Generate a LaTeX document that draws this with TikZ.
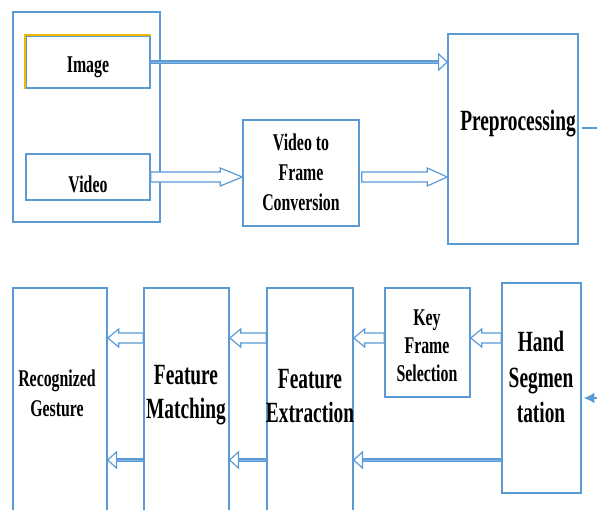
\documentclass[tikz,border=0pt]{standalone}
\usepackage{fontspec}
\setmainfont{Liberation Serif}[FakeStretch=0.66]
\usetikzlibrary{calc,fit,arrows.meta}
\definecolor{boxblue}{HTML}{5B9BD5}
\definecolor{edgegold}{HTML}{F2B800}
\definecolor{shaftmid}{HTML}{86B4E0}

\tikzset{
  box/.style={draw=boxblue, line width=1.1pt, inner sep=0pt},
  smalltxt/.style={font=\bfseries\fontsize{18}{22.5}\selectfont, align=center, inner sep=0pt},
  bigtxt/.style={font=\bfseries\fontsize{22}{25.5}\selectfont, align=center, inner sep=0pt},
  blockarrow/.style={draw=boxblue, line width=0.9pt, fill=white, line join=miter},
  shaft/.style={draw=boxblue, line width=1.2pt, double=shaftmid, double distance=0.7pt},
  openhead/.style={draw=boxblue, line width=0.9pt, fill=white, line join=miter},
  plainline/.style={draw=boxblue, line width=0.9pt},
  goldedge/.style={draw=edgegold, line width=1.2pt},
}

% hollow block arrow: start, end, head length
\newcommand\blockarr[3]{%
  \path[blockarrow] let \p1=#1, \p2=#2, \n1={2*(\x2>\x1)-1} in
    (\x1,{\y1+3.75pt}) -- ({\x2-\n1*#3},{\y1+3.75pt}) -- ({\x2-\n1*#3},{\y1+6.75pt})
    -- (\x2,\y1) -- ({\x2-\n1*#3},{\y1-6.75pt}) -- ({\x2-\n1*#3},{\y1-3.75pt})
    -- (\x1,{\y1-3.75pt}) -- cycle;}

% double-line arrow with an open triangular head
\newcommand\linearr[2]{%
  \draw[shaft] let \p1=#1, \p2=#2, \n1={2*(\x2>\x1)-1} in
    (\x1,\y1) -- ({\x2-\n1*5pt},\y1);
  \path[openhead] let \p1=#1, \p2=#2, \n1={2*(\x2>\x1)-1} in
    (\x2,\y1) -- ({\x2-\n1*6.5pt},{\y1+6pt}) -- ({\x2-\n1*6.5pt},{\y1-6pt}) -- cycle;}

\begin{document}
\begin{tikzpicture}[x=0.75pt,y=-0.75pt]
\useasboundingbox (0,0) rectangle (597,510);
\clip (0,0) rectangle (597,510);

% input group
\node[box, fit={(13,12) (160,222)}] (inp) {};
\node[box, fit={(26,36) (150,88)}] (img) {};
\path[goldedge] (img.south west) -- (img.north west) -- (img.north east);
\node[smalltxt] (imgt) at (88,67) {Image};
\node[box, fit={(26,154) (150,200)}] (vid) {};
\node[smalltxt] (vidt) at (88,184) {Video};

\node[box, fit={(243,120) (359,226)}] (vtf) {};
\node[smalltxt] (vtft) at (301,172) {Video to\\Frame\\Conversion};

\node[box, fit={(448,34) (578,244)}] (pre) {};
\node[bigtxt] (pret) at (518,124) {Preprocessing};

% lower row
\node[box, fit={(13,288) (107,540)}] (rg) {};
\node[smalltxt] (rgt) at (57,393) {Recognized\\Gesture};
\node[box, fit={(144,288) (229,540)}] (fm) {};
\node[bigtxt] (fmt) at (186,395) {Feature\\Matching};
\node[box, fit={(267,288) (353,540)}] (fe) {};
\node[bigtxt] (fet) at (310,396) {Feature\\Extraction};
\node[box, fit={(385,288) (470,397)}] (kf) {};
\node[smalltxt, font=\bfseries\fontsize{18}{21}\selectfont] (kft) at (427,346) {Key\\Frame\\Selection};
\node[box, fit={(502,283) (581,493)}] (hs) {};
\node[bigtxt, font=\bfseries\fontsize{22}{26.5}\selectfont] (hst) at (541,377) {Hand\\Segmen\\tation};

\coordinate (rowa) at (0,338);
\coordinate (rowb) at (0,460);
\coordinate (vtfout) at ($(vtf.east)+(0,4)$);
\coordinate (pout) at (600,128);
\coordinate (hin) at (600,398);

% upper connectors
\linearr{(img.east)}{(pre.west|-img.east)}
\blockarr{(vid.east)}{(vtf.west|-vid.east)}{16.5pt}
\blockarr{($(vtfout)+(2,0)$)}{(pre.west|-vtfout)}{15pt}
\draw[plainline] ($(pre.east|-pout)+(3,0)$) -- (pout);

% lower connectors
\blockarr{(fm.west|-rowa)}{(rg.east|-rowa)}{8.25pt}
\blockarr{(fe.west|-rowa)}{(fm.east|-rowa)}{8.25pt}
\blockarr{(kf.west|-rowa)}{(fe.east|-rowa)}{8.25pt}
\blockarr{(hs.west|-rowa)}{(kf.east|-rowa)}{8.25pt}
\linearr{(fm.west|-rowb)}{(rg.east|-rowb)}
\linearr{(fe.west|-rowb)}{(fm.east|-rowb)}
\linearr{(hs.west|-rowb)}{(fe.east|-rowb)}
\draw[plainline, -{Latex[length=8pt,width=8pt]}] (hin) -- ($(hs.east|-hin)+(2,0)$);
\end{tikzpicture}
\end{document}
